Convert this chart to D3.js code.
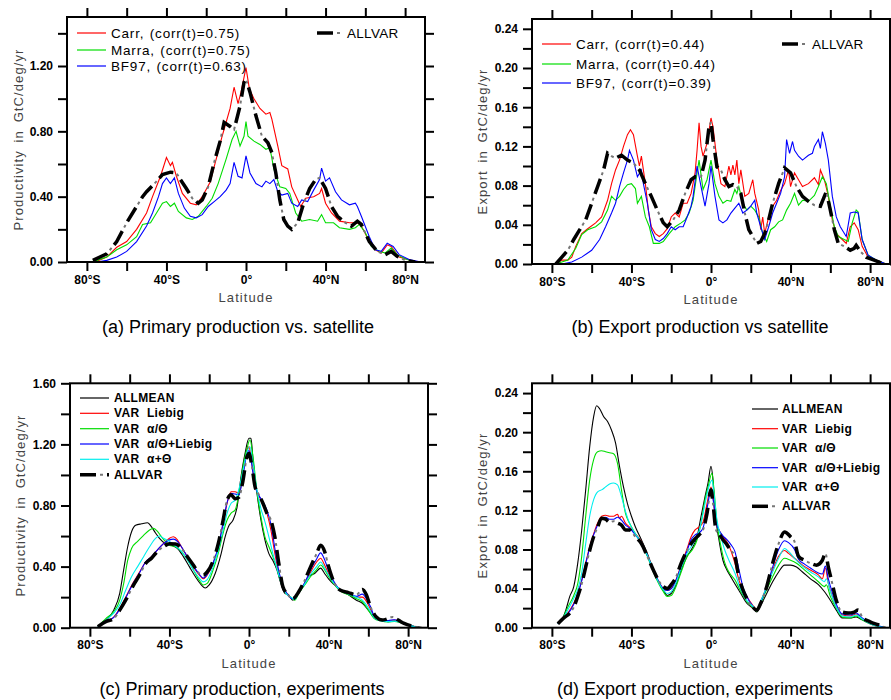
<!DOCTYPE html>
<html lang="en">
<head>
<meta charset="utf-8">
<title>Zonal productivity and export</title>
<script src="https://d3js.org/d3.v7.min.js"></script>
<style>
  body { margin:0; background:#fff; }
  svg { font-family: "Liberation Sans", Arial, sans-serif; }
  .tick text { font-weight:bold; font-size:12px; fill:#000; }
  .tick line { stroke:#000; stroke-width:2px; }
  .frame { fill:none; stroke:#000; stroke-width:2px; }
  .axtitle { font-size:13px; fill:#444; letter-spacing:1.1px; word-spacing:3px; }
  .ptitle { font-size:18px; fill:#000; }
</style>
</head>
<body>
<svg width="891" height="700"></svg>
<script>
// ---- axis ticks ----
var latTicks = [-80, -60, -40, -20, 0, 20, 40, 60, 80];
var ppTicksA = [0, 0.2, 0.4, 0.6, 0.8, 1.0, 1.2, 1.4];
var ppTicksC = [0, 0.2, 0.4, 0.6, 0.8, 1.0, 1.2, 1.4, 1.6];
var exTicks = [0, 0.02, 0.04, 0.06, 0.08, 0.10, 0.12, 0.14, 0.16, 0.18, 0.20, 0.22, 0.24];

// ---- (a) primary production vs satellite, [lat, GtC/deg/yr] ----
var ppCarr = [[-78,0],[-75,0.005],[-70,0.03],[-65,0.09],[-60,0.125],[-55,0.2],[-50,0.3],[-47,0.4],[-43,0.525],[-40,0.64],[-38,0.59],[-37,0.61],[-35,0.525],[-32,0.42],[-28,0.36],[-25,0.35],[-22,0.4],[-18,0.49],[-15,0.63],[-12,0.77],[-8,0.94],[-6,1.07],[-4,0.97],[-2.5,1.04],[0,1.19],[1.7,1.06],[4,1.0],[7,0.94],[10,0.905],[12,0.915],[13,0.875],[16,0.71],[18,0.59],[21,0.57],[23,0.46],[26,0.38],[27.5,0.34],[30,0.39],[34,0.4],[37,0.42],[38,0.45],[40,0.36],[43,0.3],[47,0.25],[52,0.24],[56,0.24],[58,0.22],[62,0.125],[65,0.075],[68,0.055],[71,0.105],[73,0.095],[77,0.03],[83,0.01],[87,0]];
var ppMarra = [[-78,0],[-75,0.01],[-70,0.03],[-65,0.075],[-60,0.105],[-55,0.155],[-52,0.23],[-48,0.24],[-45,0.3],[-42,0.36],[-40,0.37],[-38,0.34],[-36,0.36],[-34,0.31],[-30,0.27],[-27,0.26],[-24,0.28],[-20,0.34],[-17,0.39],[-14,0.48],[-10,0.63],[-7,0.75],[-5,0.8],[-3,0.71],[-1,0.77],[0,0.86],[1,0.77],[4,0.74],[7,0.72],[10,0.69],[12,0.7],[14,0.57],[17,0.46],[20,0.45],[22,0.42],[25,0.3],[28,0.25],[32,0.26],[36,0.25],[38,0.29],[40,0.24],[44,0.24],[47,0.21],[52,0.2],[55,0.21],[57,0.23],[60,0.18],[63,0.095],[67,0.065],[70,0.055],[73,0.085],[76,0.045],[80,0.02],[85,0]];
var ppBF97 = [[-78,0],[-75,0],[-70,0.01],[-65,0.03],[-60,0.065],[-55,0.125],[-50,0.22],[-47,0.3],[-44,0.4],[-42,0.48],[-40,0.515],[-38,0.48],[-36,0.515],[-34,0.42],[-31,0.33],[-28,0.28],[-25,0.27],[-22,0.29],[-19,0.34],[-16,0.37],[-13,0.4],[-10,0.44],[-8,0.48],[-6,0.61],[-4,0.525],[-2,0.515],[0,0.65],[2,0.545],[5,0.48],[8,0.46],[10,0.495],[12,0.48],[14,0.505],[16,0.43],[18,0.41],[21,0.42],[23,0.36],[26,0.34],[28,0.38],[31,0.37],[34,0.44],[37,0.505],[38,0.575],[40,0.495],[42,0.515],[45,0.43],[48,0.38],[52,0.35],[55,0.36],[56,0.34],[58,0.28],[62,0.155],[65,0.075],[68,0.065],[71,0.115],[74,0.095],[77,0.045],[82,0.015],[88,0]];
var ppAllvar = [[-77,0.01],[-70,0.05],[-65,0.125],[-60,0.24],[-55,0.34],[-52,0.4],[-50,0.43],[-46,0.48],[-42,0.535],[-38,0.55],[-35,0.545],[-33,0.505],[-30,0.45],[-27,0.39],[-24,0.36],[-22,0.38],[-19,0.46],[-16,0.61],[-13,0.74],[-11,0.855],[-8,0.83],[-6,0.81],[-3,0.955],[-1,1.1],[0,1.12],[2,1.04],[5,0.895],[8,0.77],[11,0.73],[13,0.67],[15,0.545],[17,0.38],[19,0.26],[21,0.22],[23,0.2],[26,0.24],[29,0.36],[32,0.45],[35,0.505],[37,0.515],[40,0.45],[43,0.34],[46,0.28],[50,0.24],[53,0.22],[56,0.25],[58,0.23],[62,0.125],[66,0.065],[70,0.045],[73,0.065],[76,0.035],[80,0.01],[85,0]];

// ---- (b) export production vs satellite ----
var exCarr = [[-78,0],[-75,0.004],[-72,0.004],[-70,0.007],[-68,0.018],[-65,0.031],[-62,0.036],[-58,0.042],[-55,0.048],[-52,0.065],[-50,0.082],[-48,0.096],[-46,0.106],[-44,0.12],[-42,0.132],[-40.5,0.137],[-39,0.132],[-37,0.11],[-36,0.1],[-35,0.11],[-33,0.082],[-31.5,0.055],[-30,0.038],[-28,0.031],[-26,0.028],[-24,0.031],[-22,0.036],[-20,0.048],[-18,0.052],[-16,0.048],[-14,0.062],[-12,0.062],[-10,0.072],[-8,0.093],[-7,0.116],[-6,0.144],[-5,0.12],[-4,0.11],[-2,0.123],[0,0.149],[1,0.14],[3,0.106],[5,0.082],[7,0.079],[9,0.1],[10,0.091],[11,0.101],[12,0.091],[13,0.106],[14,0.082],[15,0.096],[17,0.069],[19,0.072],[21,0.086],[22,0.072],[24,0.055],[25,0.035],[26,0.048],[27,0.031],[29,0.048],[31,0.059],[33,0.065],[35,0.075],[37,0.082],[39,0.096],[40,0.079],[42,0.093],[44,0.086],[46,0.079],[49,0.082],[52,0.088],[54,0.081],[55,0.096],[57,0.086],[59,0.069],[61,0.045],[63,0.031],[66,0.025],[68,0.021],[70,0.038],[72,0.042],[74,0.035],[76,0.018],[79,0.007],[83,0.004],[88,0]];
var exMarra = [[-78,0],[-75,0.002],[-72,0.004],[-68,0.016],[-65,0.03],[-62,0.035],[-58,0.038],[-55,0.043],[-52,0.055],[-50,0.069],[-48,0.065],[-46,0.069],[-44,0.076],[-42,0.081],[-40,0.082],[-38,0.077],[-37,0.062],[-35,0.069],[-33,0.048],[-31,0.038],[-29,0.021],[-26,0.021],[-24,0.023],[-21,0.031],[-18,0.038],[-15,0.042],[-13,0.045],[-11,0.052],[-9,0.065],[-7,0.093],[-6,0.106],[-4,0.076],[-2,0.086],[0,0.106],[2,0.082],[4,0.069],[6,0.062],[8,0.065],[10,0.064],[12,0.076],[13,0.072],[14,0.079],[16,0.062],[18,0.055],[20,0.059],[22,0.055],[24,0.048],[26,0.031],[28,0.023],[30,0.035],[32,0.038],[34,0.043],[36,0.045],[38,0.055],[40,0.062],[42,0.072],[44,0.06],[46,0.065],[49,0.064],[52,0.07],[54,0.079],[56,0.089],[58,0.082],[60,0.059],[62,0.038],[64,0.028],[67,0.025],[69,0.023],[71,0.042],[73,0.055],[74,0.053],[76,0.025],[79,0.009],[83,0.004],[88,0]];
var exBF97 = [[-75,0],[-70,0.002],[-65,0.007],[-60,0.014],[-56,0.025],[-53,0.038],[-50,0.052],[-48,0.062],[-46,0.079],[-44,0.093],[-42,0.106],[-41,0.116],[-39,0.106],[-37,0.089],[-35,0.096],[-34,0.082],[-32,0.062],[-30,0.035],[-28,0.025],[-26,0.023],[-24,0.026],[-22,0.031],[-20,0.038],[-18,0.035],[-16,0.038],[-14,0.038],[-12,0.048],[-10,0.059],[-9,0.069],[-7,0.1],[-5,0.079],[-3,0.059],[-1,0.082],[0,0.1],[2,0.069],[4,0.045],[6,0.042],[8,0.045],[10,0.052],[12,0.057],[14,0.062],[16,0.052],[18,0.055],[20,0.059],[22,0.065],[23,0.052],[25,0.038],[27,0.025],[29,0.038],[31,0.052],[33,0.062],[35,0.072],[37,0.089],[38,0.127],[39.5,0.113],[41,0.125],[42,0.116],[44,0.11],[46,0.106],[49,0.111],[51,0.113],[52,0.12],[54,0.127],[55,0.118],[56,0.135],[57.5,0.123],[59,0.106],[61,0.069],[63,0.048],[65,0.038],[68,0.028],[70,0.052],[72,0.053],[74,0.052],[76,0.025],[79,0.009],[83,0.004],[88,0]];
var exAllvar = [[-78,0],[-75,0.007],[-72,0.014],[-69,0.025],[-66,0.035],[-63,0.045],[-60,0.062],[-57,0.079],[-54,0.096],[-52,0.113],[-50,0.11],[-48,0.108],[-45,0.111],[-42,0.106],[-39,0.103],[-36,0.096],[-33,0.082],[-30,0.069],[-27,0.055],[-24,0.042],[-22,0.038],[-19,0.045],[-16,0.055],[-13,0.072],[-10,0.086],[-8,0.089],[-5,0.089],[-3,0.106],[-1,0.14],[0,0.145],[1,0.127],[3,0.099],[5,0.096],[7,0.086],[9,0.079],[11,0.081],[13,0.079],[15,0.072],[17,0.052],[19,0.035],[21,0.028],[23,0.021],[25,0.023],[27,0.031],[29,0.045],[31,0.062],[34,0.082],[37,0.098],[40,0.093],[43,0.079],[46,0.069],[49,0.064],[52,0.06],[55,0.059],[57,0.069],[58,0.074],[60,0.055],[62,0.035],[64,0.021],[67,0.018],[70,0.014],[72,0.016],[73,0.019],[75,0.013],[78,0.007],[82,0.004],[87,0]];

// ---- (c) primary production, experiments ----
var ppAllmean = [[-76,0.007],[-72,0.05],[-68,0.115],[-65,0.225],[-63,0.38],[-61,0.53],[-59,0.63],[-57,0.67],[-54,0.68],[-51,0.687],[-49,0.66],[-47,0.62],[-45,0.585],[-42,0.55],[-39,0.54],[-36,0.52],[-33,0.465],[-30,0.4],[-27,0.335],[-24,0.28],[-22,0.26],[-20,0.28],[-17,0.355],[-14,0.485],[-12,0.595],[-10,0.67],[-8,0.705],[-6,0.79],[-4,0.99],[-2,1.14],[0,1.24],[1,1.24],[2,1.1],[4,0.88],[6,0.705],[8,0.575],[10,0.485],[12,0.44],[14,0.38],[16,0.29],[18,0.225],[20,0.215],[22,0.18],[24,0.215],[26,0.245],[28,0.29],[30,0.335],[33,0.355],[36,0.39],[38,0.355],[40,0.32],[43,0.28],[46,0.245],[50,0.215],[54,0.18],[57,0.16],[60,0.115],[63,0.07],[66,0.05],[70,0.04],[73,0.045],[76,0.035],[80,0.017],[84,0.007],[88,0]];
var ppLiebig = [[-76,0.007],[-72,0.04],[-68,0.07],[-65,0.125],[-62,0.2],[-58,0.3],[-55,0.365],[-52,0.43],[-49,0.465],[-46,0.51],[-43,0.55],[-40,0.585],[-38,0.595],[-36,0.575],[-34,0.53],[-31,0.465],[-28,0.4],[-25,0.345],[-23,0.32],[-21,0.345],[-18,0.42],[-15,0.55],[-13,0.685],[-11,0.815],[-9,0.89],[-7,0.89],[-5,0.88],[-3,1.01],[-1,1.165],[0,1.185],[1,1.12],[3,0.935],[5,0.86],[7,0.815],[9,0.75],[11,0.64],[13,0.485],[15,0.355],[17,0.27],[19,0.225],[22,0.19],[25,0.235],[28,0.29],[31,0.365],[34,0.43],[36,0.455],[38,0.41],[40,0.355],[43,0.29],[46,0.245],[50,0.225],[54,0.2],[57,0.2],[60,0.15],[63,0.07],[66,0.05],[70,0.045],[73,0.05],[76,0.04],[80,0.017],[86,0]];
var ppAlphaTheta = [[-76,0.007],[-72,0.06],[-68,0.105],[-65,0.18],[-63,0.29],[-61,0.44],[-59,0.52],[-56,0.565],[-53,0.605],[-50,0.64],[-48,0.65],[-46,0.63],[-44,0.595],[-42,0.565],[-40,0.54],[-37,0.53],[-34,0.5],[-31,0.445],[-28,0.38],[-25,0.31],[-23,0.28],[-21,0.29],[-18,0.38],[-15,0.51],[-13,0.62],[-11,0.705],[-9,0.75],[-7,0.77],[-5,0.88],[-3,1.055],[-1,1.175],[0.5,1.23],[2,1.12],[4,0.89],[6,0.725],[8,0.595],[10,0.53],[12,0.465],[14,0.39],[16,0.3],[18,0.235],[21,0.2],[23,0.18],[25,0.225],[28,0.28],[31,0.335],[34,0.38],[36,0.41],[38,0.38],[40,0.335],[43,0.28],[46,0.24],[50,0.215],[54,0.19],[57,0.17],[60,0.115],[63,0.06],[66,0.045],[70,0.037],[73,0.041],[76,0.035],[80,0.017],[86,0]];
var ppAlphaThetaLiebig = [[-76,0.007],[-72,0.04],[-68,0.068],[-65,0.12],[-62,0.195],[-58,0.295],[-55,0.36],[-52,0.43],[-49,0.465],[-46,0.51],[-43,0.55],[-40,0.575],[-38,0.58],[-36,0.565],[-34,0.53],[-31,0.465],[-28,0.405],[-25,0.35],[-23,0.325],[-21,0.35],[-18,0.425],[-15,0.555],[-13,0.69],[-11,0.82],[-9,0.88],[-7,0.875],[-5,0.87],[-3,1.0],[-1,1.14],[0,1.16],[1,1.1],[3,0.93],[5,0.865],[7,0.825],[9,0.77],[11,0.68],[13,0.52],[15,0.37],[17,0.275],[19,0.225],[22,0.19],[25,0.235],[28,0.295],[31,0.38],[34,0.45],[36,0.49],[38,0.445],[40,0.375],[43,0.295],[46,0.245],[50,0.225],[54,0.205],[57,0.22],[59,0.19],[61,0.14],[63,0.075],[66,0.05],[70,0.047],[73,0.052],[76,0.04],[80,0.017],[86,0]];
var ppAlphaPlusTheta = [[-76,0.007],[-72,0.05],[-68,0.095],[-65,0.15],[-62,0.245],[-59,0.335],[-56,0.4],[-53,0.465],[-50,0.53],[-47,0.585],[-45,0.6],[-43,0.585],[-40,0.565],[-37,0.535],[-34,0.5],[-31,0.445],[-28,0.38],[-25,0.325],[-23,0.3],[-21,0.315],[-18,0.4],[-15,0.53],[-13,0.64],[-11,0.75],[-9,0.815],[-7,0.835],[-5,0.91],[-3,1.03],[-1,1.15],[0.5,1.185],[2,1.075],[4,0.9],[6,0.78],[8,0.695],[10,0.595],[12,0.485],[14,0.39],[16,0.3],[18,0.235],[21,0.2],[23,0.185],[25,0.23],[28,0.285],[31,0.35],[34,0.4],[36,0.43],[38,0.39],[40,0.345],[43,0.285],[46,0.245],[50,0.22],[54,0.2],[57,0.18],[60,0.13],[63,0.065],[66,0.046],[70,0.04],[73,0.043],[76,0.037],[80,0.017],[86,0]];
var ppAllvarExp = [[-76,0.007],[-72,0.04],[-68,0.06],[-65,0.115],[-62,0.18],[-58,0.28],[-55,0.345],[-52,0.42],[-49,0.455],[-46,0.5],[-43,0.53],[-40,0.55],[-37,0.548],[-34,0.52],[-31,0.465],[-28,0.41],[-25,0.355],[-23,0.345],[-21,0.365],[-18,0.44],[-15,0.575],[-13,0.705],[-11,0.835],[-9,0.87],[-7,0.845],[-5,0.855],[-3,0.965],[-1,1.12],[0,1.14],[1.5,1.055],[3,0.925],[5,0.87],[7,0.815],[9,0.75],[11,0.705],[13,0.595],[15,0.42],[17,0.27],[19,0.225],[22,0.19],[25,0.235],[28,0.31],[31,0.4],[34,0.485],[36,0.54],[38,0.5],[40,0.4],[43,0.29],[46,0.245],[50,0.23],[54,0.215],[57,0.25],[59,0.215],[61,0.14],[64,0.07],[67,0.05],[70,0.06],[72,0.07],[75,0.05],[78,0.028],[82,0.011],[87,0]];

// ---- (d) export production, experiments ----
var exAllmean = [[-77,0.004],[-75,0.008],[-73,0.018],[-71,0.032],[-69,0.042],[-67,0.066],[-65,0.1],[-63,0.141],[-61,0.185],[-59,0.216],[-57.5,0.227],[-56,0.224],[-54,0.216],[-52,0.211],[-50,0.202],[-48,0.189],[-46,0.165],[-44,0.144],[-42,0.127],[-40,0.114],[-38,0.103],[-35,0.09],[-32,0.076],[-29,0.059],[-26,0.045],[-24,0.039],[-22,0.033],[-20,0.035],[-18,0.042],[-15,0.059],[-12,0.073],[-9,0.083],[-7,0.093],[-5,0.114],[-3,0.134],[-1.5,0.148],[0,0.165],[1,0.151],[2,0.12],[4,0.09],[6,0.069],[8,0.059],[10,0.052],[12,0.045],[15,0.035],[18,0.025],[21,0.02],[23,0.016],[25,0.023],[28,0.035],[31,0.047],[34,0.057],[37,0.064],[40,0.064],[43,0.062],[46,0.057],[50,0.05],[54,0.044],[57,0.037],[60,0.028],[63,0.018],[66,0.01],[70,0.01],[73,0.011],[76,0.008],[80,0.004],[85,0.001],[88,0]];
var exLiebig = [[-77,0.004],[-75,0.008],[-72,0.015],[-69,0.025],[-67,0.035],[-65,0.049],[-63,0.066],[-61,0.083],[-59,0.096],[-57,0.107],[-55,0.114],[-53,0.115],[-51,0.114],[-49,0.114],[-47,0.116],[-46,0.112],[-45,0.114],[-43,0.107],[-41,0.103],[-38,0.096],[-35,0.088],[-32,0.074],[-29,0.059],[-26,0.046],[-24,0.04],[-22,0.038],[-20,0.04],[-18,0.047],[-15,0.064],[-12,0.081],[-10,0.093],[-8,0.1],[-6,0.103],[-4,0.108],[-2,0.127],[0,0.144],[1,0.134],[2.5,0.107],[4,0.1],[6,0.093],[8,0.088],[10,0.079],[12,0.066],[14,0.049],[16,0.039],[18,0.032],[21,0.023],[23,0.018],[25,0.027],[28,0.042],[31,0.059],[34,0.073],[37,0.079],[39,0.076],[42,0.071],[46,0.064],[50,0.059],[54,0.054],[56,0.05],[57.5,0.061],[59,0.045],[61,0.032],[63,0.021],[66,0.013],[70,0.012],[73,0.014],[76,0.009],[80,0.004],[88,0]];
var exAlphaTheta = [[-77,0.004],[-75,0.008],[-72,0.021],[-69,0.033],[-67,0.045],[-65,0.073],[-63,0.114],[-61,0.151],[-59,0.172],[-57,0.18],[-55,0.181],[-53,0.18],[-51,0.179],[-49,0.178],[-47,0.168],[-45,0.141],[-43,0.117],[-41,0.107],[-38,0.096],[-35,0.086],[-32,0.073],[-29,0.057],[-26,0.044],[-24,0.037],[-22,0.032],[-20,0.033],[-18,0.04],[-15,0.057],[-12,0.073],[-9,0.081],[-7,0.09],[-5,0.107],[-3,0.131],[-1.5,0.144],[0.5,0.158],[1.5,0.141],[3,0.107],[5,0.083],[7,0.066],[9,0.057],[12,0.049],[15,0.037],[18,0.027],[21,0.021],[23,0.017],[25,0.025],[28,0.039],[31,0.052],[34,0.064],[37,0.071],[40,0.069],[43,0.066],[46,0.061],[50,0.054],[54,0.047],[57,0.042],[58,0.044],[60,0.032],[63,0.02],[66,0.011],[70,0.01],[73,0.012],[76,0.008],[80,0.004],[88,0]];
var exAlphaThetaLiebig = [[-77,0.004],[-75,0.008],[-72,0.014],[-69,0.024],[-67,0.034],[-65,0.048],[-63,0.065],[-61,0.082],[-59,0.095],[-57,0.105],[-55,0.112],[-53,0.113],[-51,0.111],[-49,0.111],[-47,0.113],[-45,0.11],[-43,0.105],[-41,0.102],[-38,0.095],[-35,0.087],[-32,0.074],[-29,0.059],[-26,0.046],[-24,0.04],[-22,0.038],[-20,0.04],[-18,0.047],[-15,0.063],[-12,0.079],[-10,0.09],[-8,0.095],[-6,0.097],[-4,0.102],[-2,0.122],[0,0.14],[1,0.132],[2.5,0.108],[4,0.1],[6,0.094],[8,0.09],[10,0.085],[12,0.078],[14,0.06],[16,0.042],[18,0.032],[21,0.022],[23,0.018],[25,0.026],[28,0.042],[31,0.062],[34,0.08],[37,0.089],[39,0.087],[42,0.08],[44,0.07],[47,0.065],[50,0.061],[54,0.056],[56,0.055],[57.5,0.063],[59,0.05],[61,0.036],[63,0.024],[66,0.014],[70,0.013],[73,0.015],[76,0.01],[80,0.005],[88,0]];
var exAlphaPlusTheta = [[-77,0.004],[-75,0.008],[-72,0.018],[-69,0.03],[-67,0.039],[-65,0.056],[-63,0.086],[-61,0.114],[-59,0.131],[-57,0.139],[-55,0.141],[-53,0.144],[-51,0.147],[-49,0.148],[-47,0.146],[-45,0.134],[-43,0.119],[-41,0.107],[-38,0.096],[-35,0.087],[-32,0.074],[-29,0.059],[-26,0.045],[-24,0.039],[-22,0.035],[-20,0.037],[-18,0.044],[-15,0.061],[-12,0.076],[-9,0.086],[-7,0.093],[-5,0.107],[-3,0.127],[-1.5,0.141],[0.5,0.151],[1.5,0.137],[3,0.11],[5,0.093],[7,0.079],[9,0.069],[12,0.056],[15,0.039],[18,0.028],[21,0.022],[23,0.018],[25,0.027],[28,0.042],[31,0.057],[34,0.071],[37,0.081],[39,0.078],[42,0.071],[46,0.063],[50,0.057],[54,0.052],[57,0.047],[58,0.05],[60,0.037],[63,0.021],[66,0.012],[70,0.011],[73,0.013],[76,0.009],[80,0.004],[88,0]];
var exAllvarExp = [[-77,0.004],[-74,0.01],[-71,0.015],[-69,0.021],[-67,0.032],[-65,0.045],[-63,0.062],[-61,0.079],[-59,0.093],[-57,0.103],[-55,0.112],[-53,0.111],[-51,0.108],[-49,0.109],[-47,0.107],[-45,0.105],[-43,0.1],[-41,0.1],[-38,0.093],[-35,0.086],[-32,0.073],[-29,0.059],[-26,0.047],[-24,0.042],[-22,0.04],[-20,0.044],[-18,0.05],[-15,0.066],[-12,0.079],[-10,0.086],[-8,0.091],[-6,0.095],[-4,0.1],[-2,0.117],[0,0.141],[1,0.127],[2.5,0.1],[4,0.096],[6,0.09],[8,0.085],[10,0.079],[12,0.073],[14,0.052],[16,0.039],[18,0.03],[21,0.021],[23,0.018],[25,0.025],[28,0.042],[31,0.066],[34,0.086],[37,0.098],[40,0.093],[42,0.088],[44,0.073],[47,0.069],[50,0.066],[53,0.064],[56,0.069],[57.5,0.076],[59,0.062],[61,0.045],[63,0.028],[66,0.016],[69,0.015],[72,0.016],[74,0.018],[76,0.011],[80,0.006],[84,0.003],[88,0]];

// ---- layout ----
var RED = "#ff0000", GREEN = "#00dd00", BLUE = "#0000ff", CYAN = "#00eeee", BLACK = "#000";

var panels = [
  { x0: 67, x1: 425, yTop: 17, yBot: 262, ymax: 1.5, yTicks: ppTicksA,
    ylabel: "Productivity in GtC/deg/yr", ylabX: 18,
    title: "(a) Primary production vs. satellite", titleX: 238, titleY: 333,
    curve: d3.curveLinear,
    series: [
      { name: "Carr, (corr(t)=0.75)", data: ppCarr, color: RED },
      { name: "Marra, (corr(t)=0.75)", data: ppMarra, color: GREEN },
      { name: "BF97, (corr(t)=0.63)", data: ppBF97, color: BLUE }
    ],
    allvar: ppAllvar,
    legend: { lx0: 77, lx1: 106, tx: 111, ys: [33, 50, 66], bold: false,
              av: { lx0: 317, lx1: 343, tx: 347, y: 33 } } },
  { x0: 532, x1: 890, yTop: 19, yBot: 264, ymax: 0.25, yTicks: exTicks,
    ylabel: "Export in GtC/deg/yr", ylabX: 482,
    title: "(b) Export production vs satellite", titleX: 700, titleY: 333,
    curve: d3.curveLinear,
    series: [
      { name: "Carr, (corr(t)=0.44)", data: exCarr, color: RED },
      { name: "Marra, (corr(t)=0.44)", data: exMarra, color: GREEN },
      { name: "BF97, (corr(t)=0.39)", data: exBF97, color: BLUE }
    ],
    allvar: exAllvar,
    legend: { lx0: 542, lx1: 571, tx: 576, ys: [44, 64, 83], bold: false,
              av: { lx0: 782, lx1: 808, tx: 812, y: 44 } } },
  { x0: 70, x1: 428, yTop: 383.3, yBot: 627.7, ymax: 1.6, yTicks: ppTicksC,
    ylabel: "Productivity in GtC/deg/yr", ylabX: 20,
    title: "(c) Primary production, experiments", titleX: 242, titleY: 695,
    curve: d3.curveMonotoneX,
    series: [
      { name: "ALLMEAN", data: ppAllmean, color: BLACK },
      { name: "VAR Liebig", data: ppLiebig, color: RED },
      { name: "VAR α/Θ", data: ppAlphaTheta, color: GREEN },
      { name: "VAR α/Θ+Liebig", data: ppAlphaThetaLiebig, color: BLUE },
      { name: "VAR α+Θ", data: ppAlphaPlusTheta, color: CYAN }
    ],
    allvar: ppAllvarExp,
    legend: { lx0: 80, lx1: 109, tx: 114, ys: [398, 413.3, 428.7, 444, 459.3, 474.7], bold: true } },
  { x0: 532, x1: 890, yTop: 383.3, yBot: 627.7, ymax: 0.25, yTicks: exTicks,
    ylabel: "Export in GtC/deg/yr", ylabX: 482,
    title: "(d) Export production, experiments", titleX: 695, titleY: 695,
    curve: d3.curveMonotoneX,
    series: [
      { name: "ALLMEAN", data: exAllmean, color: BLACK },
      { name: "VAR Liebig", data: exLiebig, color: RED },
      { name: "VAR α/Θ", data: exAlphaTheta, color: GREEN },
      { name: "VAR α/Θ+Liebig", data: exAlphaThetaLiebig, color: BLUE },
      { name: "VAR α+Θ", data: exAlphaPlusTheta, color: CYAN }
    ],
    allvar: exAllvarExp,
    legend: { lx0: 752, lx1: 778, tx: 782, ys: [409, 428.7, 448, 467.7, 487, 506.3], bold: true } }
];

var svg = d3.select("svg");
var fmtLat = function(d) { return d === 0 ? "0°" : Math.abs(d) + "°" + (d < 0 ? "S" : "N"); };

// dashed ALLVAR: thick black dashes plus a thin grey dot in each gap
function dashedPath(g, dAttr) {
  g.append("path").attr("d", dAttr).attr("fill", "none")
    .attr("stroke", "#000").attr("stroke-width", 3.5).attr("stroke-dasharray", "16,11");
  g.append("path").attr("d", dAttr).attr("fill", "none")
    .attr("stroke", "#777").attr("stroke-width", 2).attr("stroke-dasharray", "0,20,3,4");
}

panels.forEach(function(p, pi) {
  var x = d3.scaleLinear().domain([-90, 90]).range([p.x0, p.x1]);
  var y = d3.scaleLinear().domain([0, p.ymax]).range([p.yBot, p.yTop]);
  var g = svg.append("g");

  var clipId = "clip" + pi;
  g.append("clipPath").attr("id", clipId).append("rect")
    .attr("x", p.x0).attr("y", p.yTop).attr("width", p.x1 - p.x0).attr("height", p.yBot - p.yTop);

  var line = d3.line().x(function(d) { return x(d[0]); }).y(function(d) { return y(d[1]); }).curve(p.curve);
  var lines = g.append("g").attr("clip-path", "url(#" + clipId + ")");
  p.series.forEach(function(s) {
    lines.append("path").datum(s.data).attr("d", line).attr("fill", "none")
      .attr("stroke", s.color).attr("stroke-width", 1.1);
  });
  dashedPath(lines, line(p.allvar));

  // axes
  var fmtY = d3.format(".2f");
  var bottom = g.append("g").attr("transform", "translate(0," + p.yBot + ")")
    .call(d3.axisBottom(x).tickValues(latTicks).tickSize(9).tickPadding(4)
      .tickFormat(function(d) { return d % 40 === 0 ? fmtLat(d) : ""; }));
  var top = g.append("g").attr("transform", "translate(0," + p.yTop + ")")
    .call(d3.axisTop(x).tickValues(latTicks).tickSize(9).tickFormat(""));
  var left = g.append("g").attr("transform", "translate(" + p.x0 + ",0)")
    .call(d3.axisLeft(y).tickValues(p.yTicks).tickSize(9).tickPadding(5)
      .tickFormat(function(d, i) { return i % 2 === 0 ? fmtY(d) : ""; }));
  var right = g.append("g").attr("transform", "translate(" + p.x1 + ",0)")
    .call(d3.axisRight(y).tickValues(p.yTicks).tickSize(9).tickFormat(""));
  [bottom, top, left, right].forEach(function(a) { a.select(".domain").remove(); a.attr("font-family", null).attr("font-size", null); });

  g.append("rect").attr("class", "frame")
    .attr("x", p.x0).attr("y", p.yTop).attr("width", p.x1 - p.x0).attr("height", p.yBot - p.yTop);

  // axis titles
  g.append("text").attr("class", "axtitle").attr("x", x(0)).attr("y", p.yBot + 40)
    .attr("text-anchor", "middle").text("Latitude");
  g.append("text").attr("class", "axtitle")
    .attr("transform", "translate(" + p.ylabX + "," + ((p.yTop + p.yBot) / 2) + ") rotate(-90)")
    .attr("text-anchor", "middle").attr("dominant-baseline", "central").text(p.ylabel);

  // panel title
  svg.append("text").attr("class", "ptitle").attr("x", p.titleX).attr("y", p.titleY)
    .attr("text-anchor", "middle").text(p.title);

  // legend
  var L = p.legend;
  var items = p.series.map(function(s) { return { name: s.name, color: s.color }; });
  if (!L.av) items.push({ name: "ALLVAR", color: null });
  items.forEach(function(it, i) {
    var yy = L.ys[i];
    if (it.color) {
      g.append("line").attr("x1", L.lx0).attr("x2", L.lx1).attr("y1", yy).attr("y2", yy)
        .attr("stroke", it.color).attr("stroke-width", 1.2);
    } else {
      dashedPath(g, "M" + L.lx0 + "," + yy + "H" + L.lx1);
    }
    g.append("text").attr("x", L.tx).attr("y", yy).attr("dominant-baseline", "central")
      .attr("font-size", L.bold ? 12 : 13.5).attr("font-weight", L.bold ? "bold" : "normal")
      .attr("letter-spacing", L.bold ? 0.3 : 0.8).attr("word-spacing", L.bold ? 4 : 1)
      .text(it.name);
  });
  if (L.av) {
    dashedPath(g, "M" + L.av.lx0 + "," + L.av.y + "H" + L.av.lx1);
    g.append("text").attr("x", L.av.tx).attr("y", L.av.y).attr("dominant-baseline", "central")
      .attr("font-size", 13.5).attr("letter-spacing", 0.3).text("ALLVAR");
  }
});
</script>
</body>
</html>
